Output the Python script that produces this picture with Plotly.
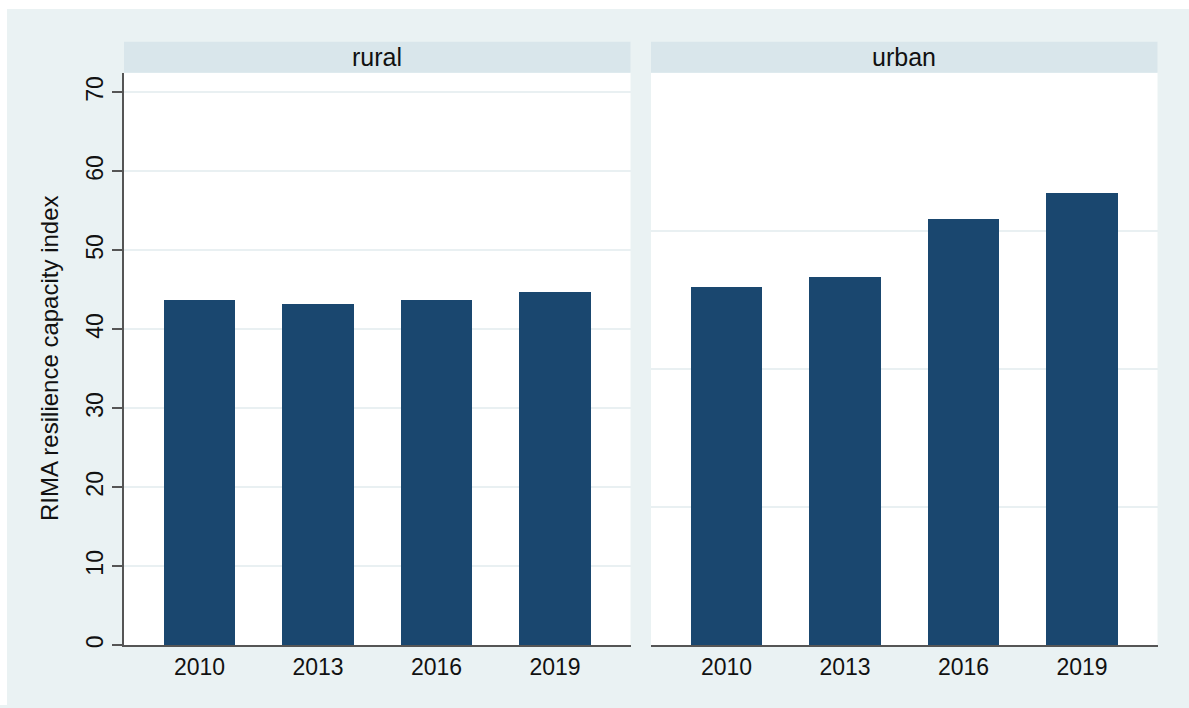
import plotly.graph_objects as go

years = ["2010", "2013", "2016", "2019"]
rural = [43.8, 43.3, 43.8, 44.8]
urban = [45.4, 46.7, 54.0, 57.3]
panels = ["rural", "urban"]
ytick_rural = [0, 10, 20, 30, 40, 50, 60, 70]
ygrid_urban = [17.5, 35, 52.5]

W, H = 1189, 708
bg = "#EAF2F3"
header = "#D9E6EB"
navy = "#1A476F"
grid = "#E9F0F2"
axisline = "#555555"
font = "Liberation Sans, Arial, sans-serif"

pos = [1, 2, 3, 4]

fig = go.Figure()
fig.add_trace(go.Bar(x=pos, y=rural, width=0.6, marker=dict(color=navy, line=dict(width=0)),
                     xaxis="x", yaxis="y", showlegend=False))
fig.add_trace(go.Bar(x=pos, y=urban, width=0.6, marker=dict(color=navy, line=dict(width=0)),
                     xaxis="x2", yaxis="y2", showlegend=False))

ydom = [1 - 648 / H, 1 - 73 / H]
xdom1 = [124 / W, 630.5 / W]
xdom2 = [651 / W, 1157.5 / W]
yrange = [0, 72.5]
xrange_ = [0.363, 4.637]

xcommon = dict(range=xrange_, tickvals=pos, ticktext=years, ticks="", showline=True,
               linecolor=axisline, linewidth=1.5, showgrid=False, zeroline=False,
               tickfont=dict(size=23, color="#111111"))

fig.update_layout(
    width=W, height=H,
    margin=dict(l=0, r=0, t=0, b=0),
    paper_bgcolor=bg, plot_bgcolor="white",
    font=dict(family=font, color="#111111"),
    xaxis=dict(domain=xdom1, anchor="y", **xcommon),
    xaxis2=dict(domain=xdom2, anchor="y2", **xcommon),
    yaxis=dict(domain=ydom, anchor="x", range=yrange, tickvals=ytick_rural,
               ticks="outside", ticklen=10, tickwidth=1.5, tickcolor=axisline,
               showline=True, linecolor=axisline, linewidth=1.5,
               showgrid=True, gridcolor=grid, gridwidth=1.5, zeroline=False,
               tickangle=-90, tickfont=dict(size=23, color="#111111")),
    yaxis2=dict(domain=ydom, anchor="x2", range=yrange, tickvals=ygrid_urban,
                showticklabels=False, ticks="", showline=False,
                showgrid=True, gridcolor=grid, gridwidth=1.5, zeroline=False),
    bargap=0,
)

# white border strips at top and left
fig.add_shape(type="rect", xref="paper", yref="paper", x0=0, x1=1, y0=1 - 9 / H, y1=1,
              fillcolor="white", line=dict(width=0), layer="below")
fig.add_shape(type="rect", xref="paper", yref="paper", x0=0, x1=7 / W, y0=0, y1=1,
              fillcolor="white", line=dict(width=0), layer="below")

# panel headers
for name, dom in zip(panels, [xdom1, xdom2]):
    fig.add_shape(type="rect", xref="paper", yref="paper", x0=dom[0], x1=dom[1],
                  y0=ydom[1], y1=1 - 42 / H, fillcolor=header, line=dict(width=0), layer="below")
    fig.add_annotation(x=(dom[0] + dom[1]) / 2, y=(ydom[1] + 1 - 42 / H) / 2, xref="paper", yref="paper",
                       text=name, showarrow=False, font=dict(size=25, color="#111111"),
                       xanchor="center", yanchor="middle")

fig.add_annotation(x=50 / W, y=(ydom[0] + ydom[1]) / 2, xref="paper", yref="paper",
                   text="RIMA resilience capacity index", textangle=-90, showarrow=False,
                   font=dict(size=24, color="#111111"), xanchor="center", yanchor="middle")

# pin the chart to the top-left corner of the window
page_fix = ("document.body.style.margin='0px';"
            "var gd=document.getElementById('{plot_id}');"
            "gd.style.position='fixed';gd.style.top='0px';gd.style.left='0px';")
fig.write_html("out.html", config={"displayModeBar": False}, post_script=page_fix)
